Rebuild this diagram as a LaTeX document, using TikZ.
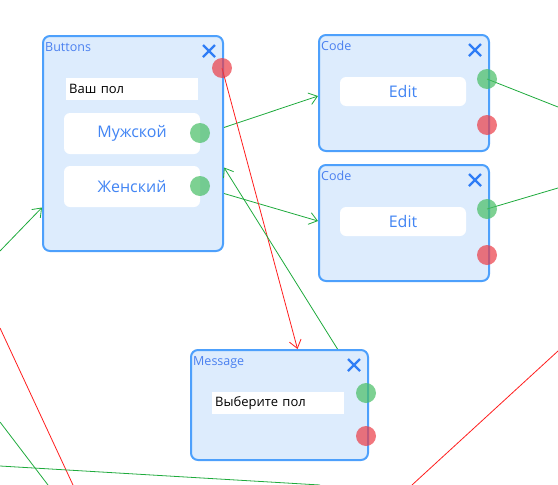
\documentclass[tikz,border=0pt]{standalone}
\usepackage{fontspec}
\setmainfont{Open Sans}
\usetikzlibrary{arrows.meta}
\definecolor{boxfill}{RGB}{221,236,253}
\definecolor{boxline}{RGB}{77,160,252}
\definecolor{titleblue}{RGB}{74,128,240}
\definecolor{textblue}{RGB}{66,133,244}
\definecolor{crossblue}{RGB}{47,125,246}
\definecolor{linkgreen}{RGB}{30,170,60}
\definecolor{linkred}{RGB}{255,30,30}
\definecolor{dotgreen}{RGB}{70,190,100}
\definecolor{dotred}{RGB}{235,60,70}
\tikzset{
block/.style={draw=boxline,line width=2pt,fill=boxfill,rounded corners=7pt,inner sep=0pt,anchor=north west},
title/.style={anchor=base west,inner sep=0pt,text=titleblue,font=\fontsize{12.5}{14}\selectfont},
cross/.style={draw=crossblue,line width=2.3pt},
field/.style={fill=white,anchor=north west,inner xsep=3pt,inner ysep=0pt,minimum height=22pt,align=left,font=\fontsize{13}{15}\selectfont},
button/.style={fill=white,rounded corners=6pt,inner sep=0pt,text=textblue,font=\fontsize{16}{18}\selectfont},
gdot/.style={circle,fill=dotgreen,fill opacity=.7,minimum size=20pt,inner sep=0pt},
rdot/.style={circle,fill=dotred,fill opacity=.7,minimum size=20pt,inner sep=0pt},
glink/.style={draw=linkgreen,line width=.8pt},
rlink/.style={draw=linkred,line width=.8pt},
arr/.style={-{Straight Barb[length=8pt,width=12pt]}}
}
\begin{document}
\begin{tikzpicture}[x=1pt,y=-1pt]
\useasboundingbox(0,0)rectangle(558,485);
\node[block,minimum width=180pt,minimum height=215pt](buttons)at(42,35){};
\node[block,minimum width=170pt,minimum height=116pt](code1)at(318,34){};
\node[block,minimum width=170pt,minimum height=116pt](code2)at(318,164){};
\node[block,minimum width=177pt,minimum height=110pt](message)at(190,349){};
\foreach\b/\t in{buttons/Buttons,code1/Code,code2/Code,message/Message}{
\node[title](\b-title)at([shift={(3,16)}]\b.north west){\t};
\draw[cross]([shift={(-21,10)}]\b.north east)--++(12,12)([shift={(-21,22)}]\b.north east)--++(12,-12);}
\node[field,text width=126pt](pol)at(66,78){Ваш пол};
\node[field,text width=126pt](msg)at(212,392){Выберите пол};
\node[button,minimum width=136pt,minimum height=41pt](male)at(132,133.5){Мужской};
\node[button,minimum width=136pt,minimum height=41pt](female)at(132,186.5){Женский};
\node[button,minimum width=126pt,minimum height=29pt](edit1)at(403,91.5){Edit};
\node[button,minimum width=126pt,minimum height=29pt](edit2)at(403,221.5){Edit};
\coordinate(w1)at(0,251);
\coordinate(w2)at(0,328);
\coordinate(w3)at(0,422);
\coordinate(w4)at(0,466);
\coordinate(s1)at(73,485);
\coordinate(s2)at(48,485);
\coordinate(s3)at(320,485);
\coordinate(s4)at(412,485);
\coordinate(e1)at(558,107);
\coordinate(e2)at(558,188);
\coordinate(e3)at(558,351);
\coordinate(btn-red)at(222,68);
\draw[glink,arr](w1)--([shift={(0,64)}]buttons.west);
\draw[glink,arr]([shift={(0,-16)}]buttons.east)--([shift={(0,3)}]code1.west);
\draw[glink,arr]([shift={(0,50)}]buttons.east)--([shift={(0,-2)}]code2.west);
\draw[rlink,arr](btn-red)--([shift={(18,0)}]message.north);
\draw[glink,arr]([shift={(58,0)}]message.north)--([shift={(0,24)}]buttons.east);
\draw[glink](487,79)--(e1);
\draw[glink](487,209)--(e2);
\draw[rlink](e3)--(s4);
\draw[rlink](w2)--(s1);
\draw[glink](w3)--(s2);
\draw[glink](w4)--(s3);
\node[rdot](buttons-red)at(btn-red){};
\node[gdot](male-dot)at(200,133){};
\node[gdot](female-dot)at(200,186){};
\node[gdot](code1-green)at(487,79){};
\node[rdot](code1-red)at(487,125){};
\node[gdot](code2-green)at(487,209){};
\node[rdot](code2-red)at(487,255){};
\node[gdot](message-green)at(366,393){};
\node[rdot](message-red)at(366,436){};
\end{tikzpicture}
\end{document}
